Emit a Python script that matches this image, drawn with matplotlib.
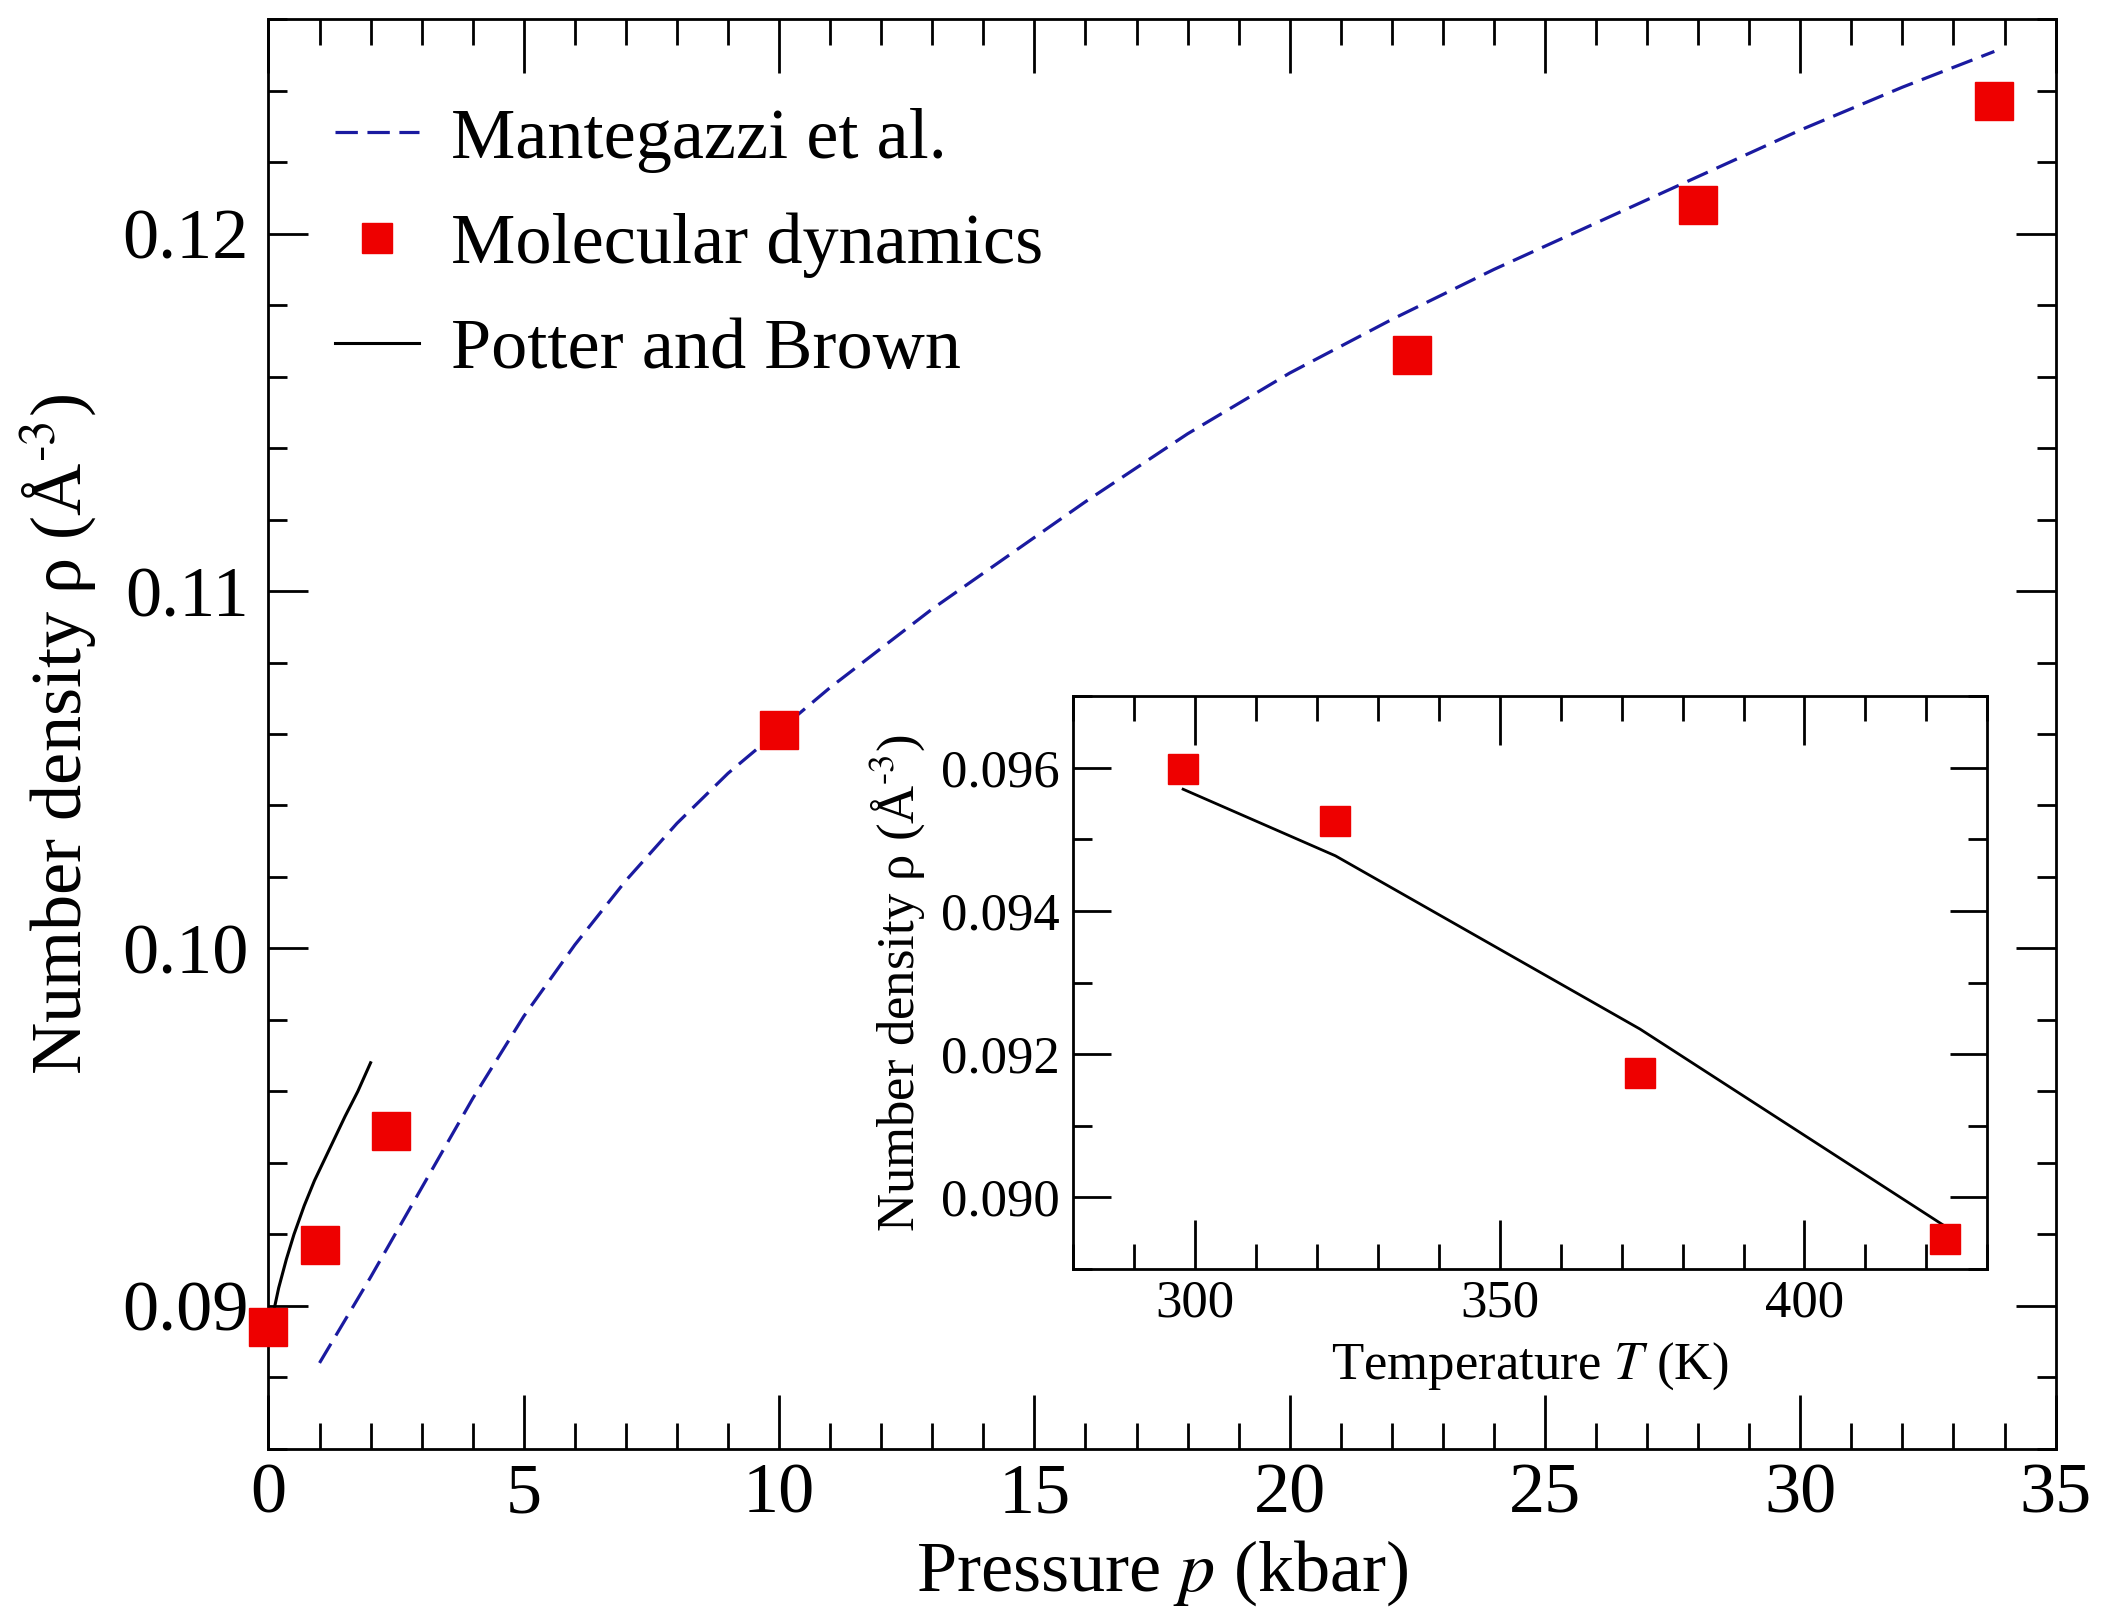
import matplotlib
matplotlib.use('Agg')
import matplotlib.pyplot as plt
from matplotlib.ticker import MultipleLocator

plt.rcParams['font.family'] = ['Liberation Serif', 'DejaVu Serif']
plt.rcParams['mathtext.fontset'] = 'stix'

# main panel: number density vs pressure
md_p = [0.0, 1.0, 2.4, 10.0, 22.4, 28.0, 33.8]
md_rho = [0.0894, 0.0917, 0.0949, 0.1061, 0.1166, 0.1208, 0.1237]

mant_p = [1, 2, 3, 4, 5, 6, 7, 8, 9, 10, 11, 12, 13, 14, 15, 16, 18, 20, 22, 24, 26, 28, 30, 32, 33.8]
mant_rho = [0.0884, 0.0908, 0.0933, 0.0958, 0.0981, 0.1001, 0.1019, 0.1035, 0.1049, 0.1061,
            0.1073, 0.1084, 0.1095, 0.1105, 0.1115, 0.1125, 0.1144, 0.1161, 0.1176, 0.1190,
            0.1203, 0.1216, 0.1229, 0.1241, 0.1251]

pb_p = [0.08, 0.2, 0.35, 0.5, 0.7, 0.9, 1.1, 1.3, 1.5, 1.75, 2.0]
pb_rho = [0.0897, 0.0905, 0.0913, 0.0920, 0.0928, 0.0935, 0.0941, 0.0947, 0.0953, 0.0960, 0.0968]

# inset: number density vs temperature
ins_T = [298, 323, 373, 423]
ins_md = [0.09598, 0.09526, 0.09174, 0.08942]
ins_pb = [0.09570, 0.09477, 0.09235, 0.08960]

red = '#ee0000'
blue = '#1a1aa0'
rho_label = r'Number density ρ (Å$^{\text{-}3}$)'

fig = plt.figure(figsize=(21.04, 16.07), dpi=100)
ax = fig.add_axes([0.1276, 0.0985, 0.8494, 0.8895])

ax.plot(mant_p, mant_rho, color=blue, lw=2.3, dashes=(7, 3), label='Mantegazzi et al.')
ax.plot(md_p, md_rho, ls='none', marker='s', ms=27, color=red, mec=red, label='Molecular dynamics', clip_on=False, zorder=5)
ax.plot(pb_p, pb_rho, color='black', lw=2.2, label='Potter and Brown')

ax.set_xlim(0, 35)
ax.set_ylim(0.086, 0.126)
ax.xaxis.set_major_locator(MultipleLocator(5))
ax.xaxis.set_minor_locator(MultipleLocator(1))
ax.set_yticks([0.09, 0.10, 0.11, 0.12])
ax.set_yticklabels(['0.09', '0.10', '0.11', '0.12'])
ax.yaxis.set_minor_locator(MultipleLocator(0.002))
ax.tick_params(which='both', direction='in', top=True, right=True, width=2, labelsize=52)
ax.tick_params(axis='x', which='major', length=39, pad=10)
ax.tick_params(axis='x', which='minor', length=19)
ax.tick_params(axis='y', which='major', length=29, pad=14)
ax.tick_params(axis='y', which='minor', length=14)
for s in ax.spines.values():
    s.set_linewidth(2)
ax.set_xlabel(r'Pressure $p$ (kbar)', fontsize=52, labelpad=8)
ax.set_ylabel(rho_label, fontsize=52, labelpad=16)

ax.legend(loc='upper left', bbox_to_anchor=(0.0375, 0.9385), frameon=False, fontsize=52,
          handlelength=1.15, handletextpad=0.45, labelspacing=0.55, borderpad=0,
          borderaxespad=0, markerscale=0.8)

ins = fig.add_axes([0.5102, 0.2104, 0.4343, 0.3564])
ins.plot(ins_T, ins_pb, color='black', lw=2)
ins.plot(ins_T, ins_md, ls='none', marker='s', ms=22, color=red, mec=red, zorder=5)
ins.set_xlim(280, 430)
ins.set_ylim(0.089, 0.097)
ins.xaxis.set_major_locator(MultipleLocator(50))
ins.xaxis.set_minor_locator(MultipleLocator(10))
ins.set_yticks([0.090, 0.092, 0.094, 0.096])
ins.set_yticklabels(['0.090', '0.092', '0.094', '0.096'])
ins.yaxis.set_minor_locator(MultipleLocator(0.001))
ins.tick_params(which='both', direction='in', top=True, right=True, width=2, labelsize=38)
ins.tick_params(axis='x', which='major', length=35, pad=8)
ins.tick_params(axis='x', which='minor', length=18)
ins.tick_params(axis='y', which='major', length=27, pad=10)
ins.tick_params(axis='y', which='minor', length=14)
for s in ins.spines.values():
    s.set_linewidth(2)
ins.set_xlabel(r'Temperature $T$ (K)', fontsize=38, labelpad=9)
ins.set_ylabel(rho_label, fontsize=38, labelpad=10)

fig.savefig('out.png', dpi=100)
